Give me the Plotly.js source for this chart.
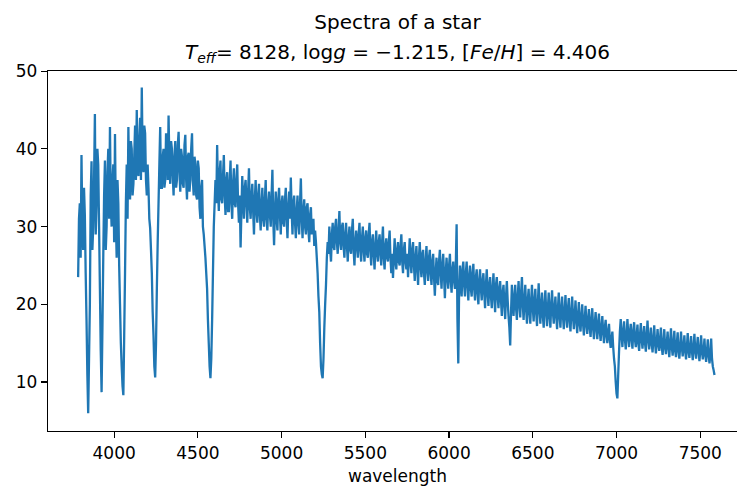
<!DOCTYPE html>
<html>
<head>
<meta charset="utf-8">
<script src="https://cdn.plot.ly/plotly-3.0.1.min.js"></script>
<style>
html, body { margin: 0; padding: 0; overflow: hidden; background: #fff; }
#chart { width: 750px; height: 491px; }
</style>
</head>
<body>
<div id="chart"></div>
<script>
// Wavelength grid of the spectrum (uniform sampling)
const wlStart = 3785;
const wlStep = 5;

// Flux values, one row per 100 Å
const flux = [
  23.5, 31.0, 33.0, 26.0, 39.2, 30.0, 27.0, 35.0, 31.5, 24.0, 18.0, 11.0, 6.0, 13.0, 20.0, 34.0, 38.4, 27.0, 30.0, 36.0,
  44.5, 29.0, 33.0, 40.0, 38.0, 30.0, 22.0, 14.0, 8.7, 17.0, 26.0, 34.0, 38.5, 27.0, 30.0, 37.0, 40.0, 31.0, 42.8, 33.0,
  30.0, 36.0, 38.0, 28.0, 41.9, 31.0, 26.0, 36.0, 33.0, 25.0, 20.0, 15.0, 12.0, 9.5, 8.3, 16.0, 24.0, 33.0, 38.0, 31.0,
  42.8, 35.0, 33.5, 41.0, 40.0, 34.0, 35.5, 39.0, 43.0, 36.0, 45.0, 38.0, 36.5, 41.0, 44.0, 36.0, 47.9, 39.0, 37.0, 43.0,
  42.0, 36.0, 34.0, 38.0, 35.0, 31.0, 29.8, 27.0, 24.0, 19.0, 16.0, 12.0, 10.6, 15.0, 22.0, 28.0, 33.0, 38.0, 42.8, 35.0,
  35.0, 39.0, 40.0, 35.0, 36.0, 42.0, 41.0, 36.0, 44.3, 38.0, 35.5, 41.0, 40.0, 36.5, 34.0, 39.0, 41.0, 35.0, 36.0, 40.5,
  42.2, 37.0, 34.5, 40.0, 39.0, 35.5, 35.0, 40.5, 41.8, 36.0, 33.5, 39.0, 39.5, 34.5, 36.0, 40.0, 42.0, 36.0, 34.0, 39.0,
  38.0, 34.0, 33.5, 38.5, 37.5, 32.5, 31.0, 35.0, 36.0, 30.0, 29.0, 27.5, 26.0, 24.0, 22.0, 18.0, 15.0, 12.0, 10.5, 13.0,
  18.0, 24.0, 30.0, 33.0, 36.0, 33.0, 40.5, 35.0, 32.0, 37.0, 38.5, 33.5, 33.0, 36.5, 39.2, 34.0, 31.5, 36.0, 37.0, 32.0,
  32.0, 36.0, 38.5, 33.0, 31.0, 35.5, 37.5, 33.0, 32.5, 36.0, 38.0, 33.0, 30.5, 34.0, 27.3, 32.0, 36.5, 33.5, 31.0, 35.0,
  36.0, 33.0, 30.5, 34.5, 37.5, 32.5, 31.0, 34.0, 35.5, 32.0, 29.0, 33.5, 36.0, 32.0, 30.5, 34.0, 35.5, 31.5, 29.5, 33.0,
  35.0, 31.0, 30.0, 33.5, 36.0, 31.0, 29.5, 33.0, 34.5, 31.5, 30.0, 34.0, 37.3, 31.0, 27.6, 32.0, 34.5, 31.0, 29.5, 33.5,
  35.0, 31.5, 29.0, 33.0, 34.0, 30.5, 30.0, 33.5, 35.0, 31.0, 28.5, 32.5, 34.5, 31.0, 36.3, 32.0, 29.0, 33.0, 34.0, 30.5,
  28.5, 32.0, 34.0, 30.5, 29.0, 33.0, 36.2, 31.0, 28.5, 32.0, 33.5, 30.0, 29.0, 32.5, 33.0, 29.5, 28.0, 31.5, 32.5, 29.0,
  30.0, 31.0, 27.5, 29.5, 28.0, 26.0, 24.0, 21.0, 19.0, 15.0, 12.0, 11.0, 10.5, 13.0, 17.0, 20.0, 22.5, 26.0, 28.0, 26.5,
  30.0, 27.0, 25.5, 29.0, 30.5, 27.5, 27.0, 30.0, 31.0, 28.0, 26.5, 29.5, 32.0, 28.0, 27.0, 30.0, 30.5, 27.5, 26.0, 29.0,
  30.5, 27.5, 25.5, 28.5, 30.0, 27.0, 26.5, 29.5, 31.0, 27.0, 25.0, 28.0, 29.5, 27.5, 26.0, 29.0, 30.5, 27.0, 25.5, 28.5,
  30.0, 27.0, 25.5, 28.5, 29.5, 26.5, 26.0, 29.0, 30.5, 27.0, 25.0, 28.0, 29.0, 26.5, 24.5, 27.5, 29.5, 26.5, 25.5, 28.0,
  29.0, 26.5, 25.0, 28.0, 30.0, 26.0, 24.5, 27.5, 28.5, 26.0, 25.5, 28.0, 29.5, 26.0, 24.0, 26.5, 23.4, 26.0, 28.5, 25.5,
  24.5, 27.0, 28.0, 25.5, 25.0, 27.5, 29.0, 25.5, 24.0, 27.0, 28.0, 25.5, 24.5, 26.5, 23.5, 26.0, 28.5, 25.5, 24.0, 27.0,
  28.0, 25.0, 23.0, 26.0, 27.5, 24.5, 22.5, 26.0, 28.0, 25.0, 23.5, 26.5, 27.0, 24.0, 22.5, 25.5, 27.5, 24.5, 23.0, 26.0,
  27.0, 24.0, 22.5, 25.5, 26.5, 23.5, 21.1, 24.0, 26.0, 23.0, 22.5, 25.5, 27.0, 24.0, 22.0, 25.0, 26.5, 23.5, 20.8, 24.0,
  26.0, 23.5, 22.0, 25.0, 26.5, 23.0, 21.5, 24.5, 25.5, 23.0, 22.0, 25.0, 30.3, 18.0, 12.4, 22.0, 25.0, 22.5, 21.0, 24.5,
  25.5, 22.5, 21.0, 24.0, 25.5, 22.5, 20.5, 23.5, 25.0, 22.0, 21.0, 24.0, 25.2, 22.0, 20.5, 23.5, 24.5, 21.5, 20.0, 23.0,
  24.5, 22.0, 20.5, 23.0, 24.0, 21.5, 19.5, 22.5, 24.5, 21.5, 19.8, 22.5, 23.5, 21.0, 19.5, 22.0, 24.0, 21.0, 19.0, 22.5,
  23.5, 21.0, 19.5, 22.0, 23.0, 20.5, 18.5, 21.5, 22.5, 20.0, 18.1, 21.0, 23.0, 20.5, 18.5, 17.0, 14.7, 19.0, 22.5, 20.0,
  18.5, 21.0, 22.5, 19.5, 18.0, 21.0, 23.0, 20.0, 18.3, 21.5, 23.5, 20.0, 18.0, 20.5, 22.5, 19.5, 17.5, 20.5, 22.0, 19.0,
  17.5, 20.5, 22.5, 19.5, 17.8, 20.5, 22.0, 19.0, 17.2, 20.0, 22.7, 19.5, 17.5, 20.0, 21.5, 18.5, 17.0, 20.0, 21.8, 19.0,
  17.2, 19.5, 21.5, 18.5, 17.0, 20.0, 21.8, 19.0, 17.5, 19.5, 21.0, 18.5, 16.8, 19.5, 21.5, 18.5, 17.0, 19.5, 21.0, 18.5,
  16.8, 19.0, 21.2, 18.5, 17.0, 19.5, 20.8, 18.0, 16.5, 19.0, 21.0, 18.5, 16.8, 18.5, 20.5, 18.0, 16.3, 18.5, 20.3, 17.5,
  16.5, 18.5, 20.0, 17.5, 16.0, 18.0, 19.8, 17.5, 16.2, 18.0, 19.4, 17.0, 15.8, 18.0, 19.5, 17.0, 15.5, 17.5, 19.0, 17.0,
  15.5, 17.5, 18.8, 16.5, 15.3, 17.0, 18.5, 16.5, 15.0, 17.0, 18.0, 16.0, 15.0, 16.5, 17.5, 15.5, 14.4, 15.5, 16.5, 14.5,
  13.0, 12.0, 10.0, 8.5, 7.9, 11.0, 14.0, 16.5, 18.1, 16.0, 14.5, 16.5, 17.8, 15.5, 14.2, 16.0, 18.1, 16.0, 14.5, 16.5,
  17.5, 15.5, 14.3, 16.5, 17.7, 15.5, 14.5, 16.0, 17.4, 15.0, 14.0, 16.0, 17.6, 15.5, 14.3, 16.0, 17.2, 15.0, 13.9, 16.0,
  17.9, 15.5, 14.2, 15.5, 17.0, 15.0, 13.8, 15.5, 17.3, 15.0, 13.7, 15.0, 16.8, 15.0, 14.0, 15.5, 17.0, 14.5, 13.5, 15.0,
  16.8, 14.5, 13.6, 15.0, 16.5, 14.5, 13.2, 15.0, 16.9, 14.5, 13.4, 15.0, 16.6, 14.0, 13.2, 15.0, 16.4, 14.0, 13.0, 14.5,
  16.5, 14.5, 13.3, 14.5, 16.0, 14.0, 12.9, 14.5, 16.3, 14.0, 13.1, 14.5, 15.9, 14.0, 12.8, 14.5, 16.2, 14.0, 13.0, 14.5,
  15.8, 14.0, 12.7, 14.0, 16.0, 14.0, 12.9, 14.0, 15.6, 13.5, 12.6, 14.0, 15.5, 13.5, 12.4, 13.5, 15.6, 13.0, 12.0, 11.5, 10.9
];

const wavelength = flux.map((_, i) => wlStart + i * wlStep);

const xTicks = [4000, 4500, 5000, 5500, 6000, 6500, 7000, 7500];
const yTicks = [10, 20, 30, 40, 50];

const titleLine1 = 'Spectra of a star';
const titleLine2 = '<i>T</i><sub><i>eff</i></sub>= 8128, log<i>g</i> = \u22121.215, [<i>Fe</i>/<i>H</i>] = 4.406';
const xLabel = 'wavelength';

const font = { family: 'DejaVu Sans, sans-serif', size: 17, color: '#000' };

const trace = {
  x: wavelength,
  y: flux,
  type: 'scatter',
  mode: 'lines',
  line: { color: '#1f77b4', width: 2.3, simplify: false },
  hoverinfo: 'skip'
};

const layout = {
  width: 750,
  height: 491,
  margin: { l: 48, r: 3, t: 71, b: 60 },
  paper_bgcolor: '#fff',
  plot_bgcolor: '#fff',
  font: font,
  showlegend: false,
  title: {
    text: titleLine1,
    font: { family: 'DejaVu Sans, sans-serif', size: 20, color: '#000' },
    x: 0.5, xref: 'paper', xanchor: 'center',
    y: 0.955, yref: 'container', yanchor: 'middle'
  },
  annotations: [{
    text: titleLine2,
    xref: 'paper', yref: 'paper',
    x: 0.5, y: 1, xanchor: 'center', yanchor: 'bottom',
    yshift: 3,
    showarrow: false,
    font: { family: 'DejaVu Sans, sans-serif', size: 20, color: '#000' }
  }],
  xaxis: {
    range: [3605, 7779],
    tickvals: xTicks,
    ticktext: xTicks.map(String),
    ticks: 'outside', ticklen: 6, tickwidth: 1.2, tickcolor: '#000',
    showline: true, linecolor: '#000', linewidth: 1.2, mirror: true,
    showgrid: false, zeroline: false,
    tickfont: font,
    title: { text: xLabel, font: font, standoff: 8 }
  },
  yaxis: {
    range: [3.7, 50.02],
    tickvals: yTicks,
    ticktext: yTicks.map(String),
    ticks: 'outside', ticklen: 6, tickwidth: 1.2, tickcolor: '#000',
    showline: true, linecolor: '#000', linewidth: 1.2, mirror: true,
    showgrid: false, zeroline: false,
    tickfont: font
  }
};

Plotly.newPlot('chart', [trace], layout, { displayModeBar: false, staticPlot: true });
</script>
</body>
</html>
